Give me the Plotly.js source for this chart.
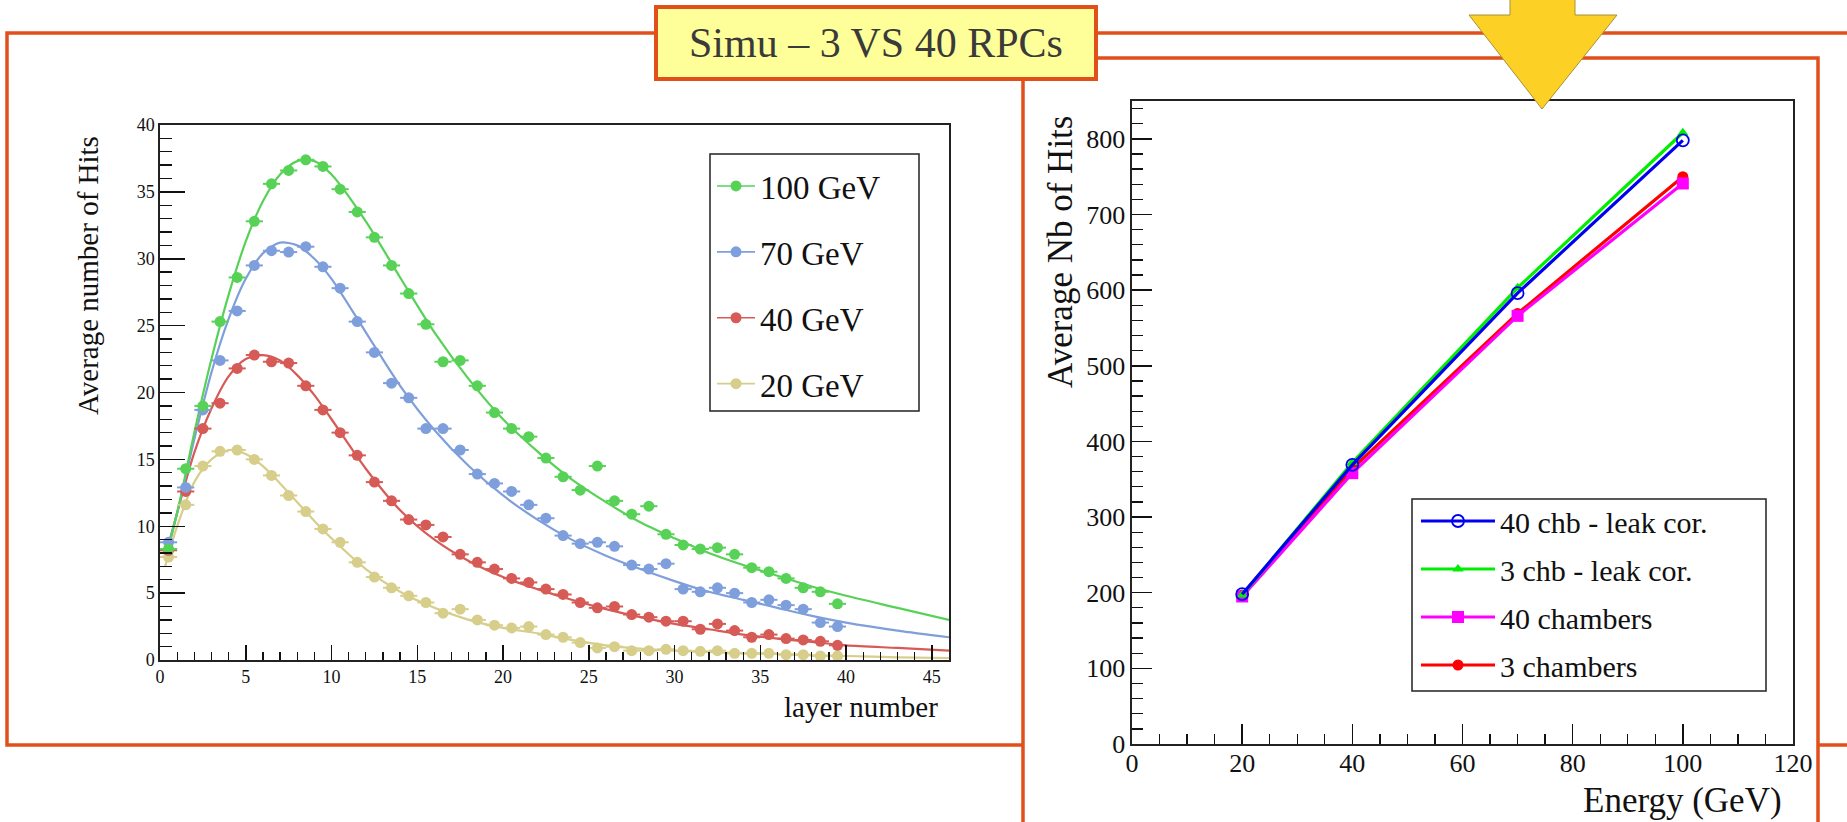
<!DOCTYPE html>
<html><head><meta charset="utf-8">
<script src="https://cdn.plot.ly/plotly-3.0.1.min.js"></script>
<style>html,body{margin:0;padding:0;background:#fff;overflow:hidden}#chart{width:1847px;height:822px}</style>
</head><body><div id="chart"></div>
<script>
// ---------- Left chart: longitudinal profile ----------
const layerNumber = [0.5,1.5,2.5,3.5,4.5,5.5,6.5,7.5,8.5,9.5,10.5,11.5,12.5,13.5,14.5,15.5,16.5,17.5,18.5,19.5,20.5,21.5,22.5,23.5,24.5,25.5,26.5,27.5,28.5,29.5,30.5,31.5,32.5,33.5,34.5,35.5,36.5,37.5,38.5,39.5];
const hits100 = [8.3,14.3,19.0,25.3,28.6,32.8,35.6,36.6,37.4,36.9,35.2,33.5,31.6,29.5,27.4,25.1,22.3,22.4,20.5,18.5,17.3,16.7,15.1,13.7,12.7,14.5,11.9,10.9,11.5,9.4,8.6,8.3,8.4,7.9,6.9,6.6,6.1,5.4,5.1,4.2];
const hits70  = [8.8,12.9,18.7,22.4,26.1,29.5,30.6,30.5,30.9,29.4,27.8,25.3,23.0,20.7,19.6,17.3,17.3,15.7,13.9,13.2,12.6,11.6,10.6,9.3,8.7,8.8,8.5,7.1,6.8,7.2,5.3,5.1,5.4,5.0,4.3,4.5,4.1,3.8,2.8,2.5];
const hits40  = [8.2,12.6,17.3,19.2,21.8,22.8,22.3,22.2,20.5,18.7,17.0,15.3,13.3,11.9,10.5,10.1,9.2,7.9,7.3,6.8,6.1,5.8,5.3,4.9,4.3,3.9,4.0,3.4,3.2,2.9,2.9,2.3,2.7,2.2,1.7,1.9,1.6,1.5,1.4,1.1];
const hits20  = [7.7,11.6,14.5,15.6,15.7,15.0,13.8,12.3,11.1,9.8,8.8,7.3,6.2,5.4,4.8,4.3,3.5,3.8,3.0,2.6,2.4,2.5,1.9,1.7,1.3,0.9,1.0,0.7,0.7,0.8,0.7,0.65,0.7,0.5,0.5,0.5,0.4,0.4,0.3,0.3];
const layerHalfWidth = 0.5;
const hitsErr = 0.35;
// fitted curves
const fitLayer = [0.3,1,2,3,4,5,6,7,8,9,10,12,14,16,18,20,22,24,26,28,30,32,34,36,38,40,43,46];
const fit100 = [7.5,11,17,22.5,27.3,31.3,34.3,36.3,37.3,37.3,36.3,32.8,28.6,24.5,21.0,18.0,15.6,13.5,11.8,10.3,9.1,8.0,7.1,6.3,5.5,4.8,3.9,3.0];
const fit70  = [7.8,11,16.5,21.5,25.5,28.5,30.4,31.2,31.0,30.0,28.5,24.5,20.5,17.2,14.5,12.3,10.5,9.0,7.8,6.8,5.9,5.1,4.5,3.9,3.3,2.8,2.2,1.7];
const fit40  = [7.5,11,15.5,18.8,21.2,22.5,22.8,22.4,21.3,19.8,18.0,14.3,11.2,9.0,7.4,6.2,5.3,4.5,3.8,3.2,2.7,2.3,1.9,1.6,1.35,1.1,0.9,0.7];
const fit20  = [7.0,10,13.3,15.0,15.7,15.4,14.5,13.2,11.8,10.4,9.1,6.8,5.1,3.9,3.0,2.4,2.0,1.5,1.1,0.85,0.7,0.6,0.5,0.45,0.35,0.3,0.2,0.15];
const leftNames = ['100 GeV','70 GeV','40 GeV','20 GeV'];

// ---------- Right chart: total hits vs energy ----------
const energy = [20,40,70,100];
const chb40Leak = [198,369,596,798];
const chb3Leak  = [197,372,603,808];
const chambers40 = [195,358,566,741];
const chambers3  = [197,364,569,750];
const rightNames = ['40 chb - leak cor.','3 chb - leak cor.','40 chambers','3 chambers'];

// ---------- helpers (pixel -> paper) ----------
const W = 1847, H = 822;
const fx = p => p / W;
const fy = p => 1 - p / H;
const FONT = '"Liberation Serif","Times New Roman",Times,serif';
const ORANGE = '#E1501B';

const cols = {g100:'#57D257', g70:'#7E9FDB', g40:'#D65A55', g20:'#D6CE8A'};
const leftSets = [
  {y:hits20, f:fit20, c:cols.g20},
  {y:hits40, f:fit40, c:cols.g40},
  {y:hits70, f:fit70, c:cols.g70},
  {y:hits100, f:fit100, c:cols.g100}
];
const traces = [];
leftSets.forEach(s => {
  traces.push({x:fitLayer, y:s.f, type:'scatter', mode:'lines', line:{color:s.c, width:2.2, shape:'spline', smoothing:0.8}, showlegend:false, hoverinfo:'skip', xaxis:'x', yaxis:'y'});
});
leftSets.forEach(s => {
  traces.push({x:layerNumber, y:s.y, type:'scatter', mode:'markers', marker:{color:s.c, size:11, symbol:'circle'},
    error_x:{type:'constant', value:layerHalfWidth, color:s.c, thickness:2, width:0},
    error_y:{type:'constant', value:hitsErr, color:s.c, thickness:2, width:0},
    showlegend:false, xaxis:'x', yaxis:'y'});
});
const legCols = [cols.g100, cols.g70, cols.g40, cols.g20];
leftNames.forEach((n,i) => {
  traces.push({x:[null], y:[null], type:'scatter', mode:'lines+markers', name:n, line:{color:legCols[i], width:1.6}, marker:{color:legCols[i], size:11},
    legend:'legend', legendgroup:'L'+i, legendrank:i+1, xaxis:'x', yaxis:'y'});
});

// right chart, drawn red, magenta, green, blue (blue on top)
const rightSets = [
  {y:chambers3, n:rightNames[3], c:'#FF0000', m:{symbol:'circle', size:11}, r:4},
  {y:chambers40, n:rightNames[2], c:'#FF00FF', m:{symbol:'square', size:12}, r:3},
  {y:chb3Leak, n:rightNames[1], c:'#00EE00', m:{symbol:'triangle-up', size:10}, r:2},
  {y:chb40Leak, n:rightNames[0], c:'#0000F0', m:{symbol:'circle-open', size:12, line:{width:1.8}}, r:1}
];
rightSets.forEach(s => {
  const mk = Object.assign({color:s.c}, s.m);
  traces.push({x:energy, y:s.y, type:'scatter', mode:'lines+markers', name:s.n, line:{color:s.c, width:3.2}, marker:mk,
    legend:'legend2', legendgroup:'R'+s.r, legendrank:s.r, xaxis:'x2', yaxis:'y2'});
});

const axBase = {showline:true, linecolor:'#222', linewidth:1.6, mirror:true, showgrid:false, zeroline:false,
  ticks:'inside', tickcolor:'#111', tickwidth:1.5, fixedrange:true, tickfont:{family:FONT, color:'#111'}};

const layout = {
  width:W, height:H, margin:{l:0,r:0,t:0,b:0}, paper_bgcolor:'#ffffff', plot_bgcolor:'rgba(0,0,0,0)',
  font:{family:FONT, color:'#111'}, showlegend:true, hovermode:false,
  xaxis:Object.assign({}, axBase, {domain:[fx(160), fx(949)], range:[0,46], anchor:'y', tick0:0, dtick:5, ticklen:15,
    minor:{dtick:1, ticklen:8, tickwidth:1.3, tickcolor:'#111', ticks:'inside'}, tickfont:{family:FONT, size:18, color:'#111'}}),
  yaxis:Object.assign({}, axBase, {domain:[fy(660), fy(125)], range:[0,40], anchor:'x', tick0:0, dtick:5, ticklen:25,
    minor:{dtick:1, ticklen:12, tickwidth:1.3, tickcolor:'#111', ticks:'inside'}, tickfont:{family:FONT, size:18, color:'#111'}}),
  xaxis2:Object.assign({}, axBase, {domain:[fx(1132), fx(1793)], range:[0,120], anchor:'y2', tick0:0, dtick:20, ticklen:20,
    minor:{dtick:5, ticklen:10, tickwidth:1.3, tickcolor:'#111', ticks:'inside'}, ticklabelstandoff:-5, tickfont:{family:FONT, size:26, color:'#111'}}),
  yaxis2:Object.assign({}, axBase, {domain:[fy(744), fy(101)], range:[0,850], anchor:'x2', tick0:0, dtick:100, ticklen:20,
    minor:{dtick:20, ticklen:11, tickwidth:1.3, tickcolor:'#111', ticks:'inside'}, tickfont:{family:FONT, size:26, color:'#111'}}),
  legend:{x:fx(712), y:fy(158), xanchor:'left', yanchor:'top', bgcolor:'rgba(0,0,0,0)', borderwidth:0,
    font:{family:FONT, size:33, color:'#111'}, tracegroupgap:20, traceorder:'grouped', itemwidth:38},
  legend2:{x:fx(1416), y:fy(495), xanchor:'left', yanchor:'top', bgcolor:'rgba(0,0,0,0)', borderwidth:0,
    font:{family:FONT, size:30, color:'#111'}, tracegroupgap:6, traceorder:'grouped', itemwidth:74},
  shapes:[
    {type:'rect', xref:'paper', yref:'paper', x0:fx(7), x1:fx(1880), y0:fy(745), y1:fy(33), line:{color:ORANGE, width:3.5}, fillcolor:'rgba(0,0,0,0)', layer:'below'},
    {type:'rect', xref:'paper', yref:'paper', x0:fx(1023), x1:fx(1818), y0:fy(860), y1:fy(58), line:{color:ORANGE, width:3.5}, fillcolor:'#ffffff', layer:'below'},
    {type:'rect', xref:'paper', yref:'paper', x0:fx(710), x1:fx(919), y0:fy(411), y1:fy(154), line:{color:'#222', width:1.5}, fillcolor:'rgba(0,0,0,0)', layer:'above'},
    {type:'rect', xref:'paper', yref:'paper', x0:fx(1412), x1:fx(1766), y0:fy(691), y1:fy(499), line:{color:'#222', width:1.5}, fillcolor:'rgba(0,0,0,0)', layer:'above'},
    {type:'rect', xref:'paper', yref:'paper', x0:fx(656), x1:fx(1096), y0:fy(79), y1:fy(7), line:{color:ORANGE, width:4}, fillcolor:'#FFFF99', layer:'above'},
    {type:'path', xref:'paper', yref:'paper', layer:'above', fillcolor:'#FDD026', line:{color:'#A89038', width:1},
      path:'M'+fx(1510)+','+fy(-5)+' L'+fx(1575)+','+fy(-5)+' L'+fx(1575)+','+fy(15)+' L'+fx(1617)+','+fy(15)+' L'+fx(1542)+','+fy(109)+' L'+fx(1469)+','+fy(15)+' L'+fx(1510)+','+fy(15)+' Z'}
  ],
  annotations:[
    {text:'Simu – 3 VS 40 RPCs', xref:'paper', yref:'paper', x:fx(876), y:fy(43), xanchor:'center', yanchor:'middle', showarrow:false, font:{family:FONT, size:42, color:'#3a3a3a'}},
    {text:'Average number of Hits', xref:'paper', yref:'paper', x:fx(88), y:fy(276), xanchor:'center', yanchor:'middle', textangle:-90, showarrow:false, font:{family:FONT, size:29, color:'#111'}},
    {text:'layer number', xref:'paper', yref:'paper', x:fx(940), y:fy(707), xanchor:'right', yanchor:'middle', showarrow:false, font:{family:FONT, size:29, color:'#111'}},
    {text:'Average Nb of Hits', xref:'paper', yref:'paper', x:fx(1060), y:fy(252), xanchor:'center', yanchor:'middle', textangle:-90, showarrow:false, font:{family:FONT, size:35, color:'#111'}},
    {text:'Energy (GeV)', xref:'paper', yref:'paper', x:fx(1784), y:fy(800), xanchor:'right', yanchor:'middle', showarrow:false, font:{family:FONT, size:35, color:'#111'}}
  ]
};
Plotly.newPlot('chart', traces, layout, {staticPlot:true, displayModeBar:false});
</script>
</body></html>
